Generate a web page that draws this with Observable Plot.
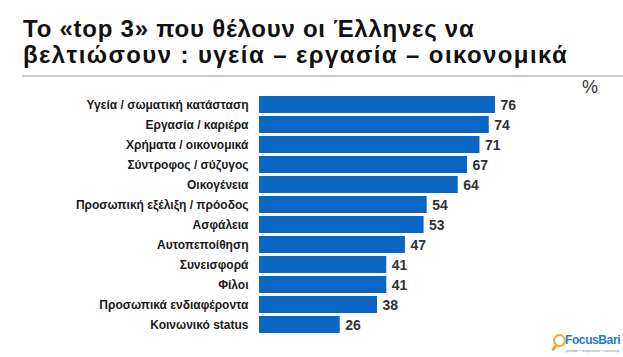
<!DOCTYPE html>
<html>
<head>
<meta charset="utf-8">
<script src="https://cdn.jsdelivr.net/npm/d3@7"></script>
<script src="https://cdn.jsdelivr.net/npm/@observablehq/plot@0.6"></script>
<style>
  html, body { margin: 0; padding: 0; background: #fff; }
  #wrap { position: relative; width: 623px; height: 357px; overflow: hidden; font-family: "Liberation Sans", Arial, sans-serif; }
  #title { position: absolute; left: 23px; top: 16px; font-weight: bold; font-size: 24px; line-height: 26px; color: #111; white-space: nowrap; }
  #title .l1 { letter-spacing: 0.75px; }
  #title .l2 { letter-spacing: 1.4px; }
  #rule { position: absolute; left: 22px; right: 0; top: 75px; height: 2px; background: #c8c8c8; }
  #pct { position: absolute; left: 582px; top: 77px; font-size: 18px; color: #333; }
  #chart { position: absolute; left: 0; top: 0; }
  #logo { position: absolute; left: 551px; top: 331px; width: 72px; height: 26px; }
  #logo .ring { position: absolute; left: 2px; top: 3px; width: 9px; height: 9px; border: 2.5px solid #f5a623; border-radius: 50%; }
  #logo .handle { position: absolute; left: 2px; top: 13px; width: 3px; height: 7px; background: #f5a623; transform: rotate(40deg); }
  #logo .name { position: absolute; left: 14px; top: 2px; font-size: 12px; letter-spacing: -0.4px; font-weight: bold; color: #1f7bd0; white-space: nowrap; }
  #logo .tag { position: absolute; left: 15px; top: 17px; font-size: 4px; color: #888; white-space: nowrap; }
</style>
</head>
<body>
<div id="wrap">
  <div id="chart"></div>
  <div id="title"><span class="l1">Το «top 3» που θέλουν οι Έλληνες να</span><br><span class="l2">βελτιώσουν : υγεία – εργασία – οικονομικά</span></div>
  <div id="rule"></div>
  <div id="pct">%</div>
  <div id="logo"><div class="ring"></div><div class="handle"></div><div class="name">FocusBari</div><div class="tag">people • inspiration • creativity</div></div>
</div>
<script>
const categories = [
  "Υγεία / σωματική κατάσταση",
  "Εργασία / καριέρα",
  "Χρήματα / οικονομικά",
  "Σύντροφος / σύζυγος",
  "Οικογένεια",
  "Προσωπική εξέλιξη / πρόοδος",
  "Ασφάλεια",
  "Αυτοπεποίθηση",
  "Συνεισφορά",
  "Φίλοι",
  "Προσωπικά ενδιαφέροντα",
  "Κοινωνικό status"
];
const values = [76, 74, 71, 67, 64, 54, 53, 47, 41, 41, 38, 26];

const data = categories.map((c, i) => ({category: c, value: values[i]}));

const chart = Plot.plot({
  width: 623,
  height: 357,
  marginLeft: 259,
  marginRight: 53.5,
  marginTop: 89,
  marginBottom: 17.3,
  style: {fontFamily: "'Liberation Sans', Arial, sans-serif", background: "transparent"},
  x: {domain: [0, 100], axis: null},
  y: {domain: categories, padding: 0.17, label: null, tickSize: 0, tickPadding: 11},
  marks: [
    Plot.barX(data, {x: "value", y: "category", fill: "#0b66c3"}),
    Plot.text(data, {x: "value", y: "category", text: d => String(d.value), textAnchor: "start", dx: 5, dy: 1, fontSize: 14, fontWeight: "bold", fill: "#333"}),
    Plot.axisY({tickSize: 0, tickPadding: 11, fontSize: 12, fontWeight: "bold", fill: "#1a1a1a", label: null})
  ]
});
document.getElementById("chart").appendChild(chart);
</script>
</body>
</html>
